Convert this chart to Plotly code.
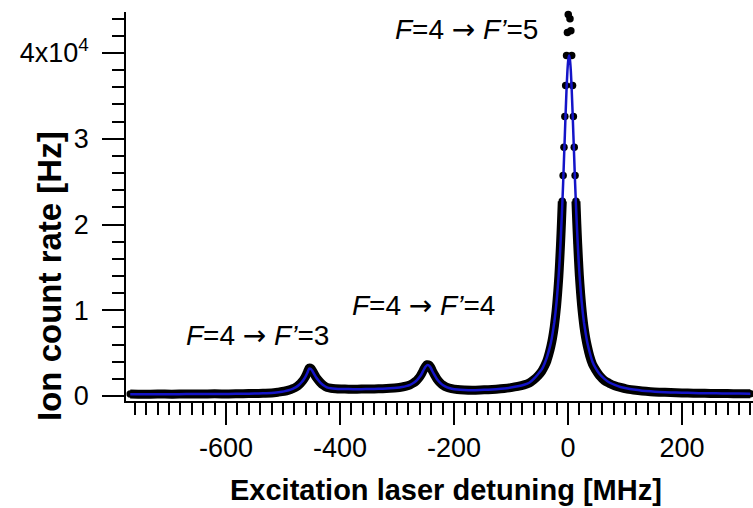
import plotly.graph_objects as go
import numpy as np

# ---------------- data ----------------
# detuning [MHz]
detuning = [
    -768, -745, -720, -695, -670, -645, -620, -595, -570, -550, -535, -520,
    -508, -498, -490, -483, -477, -472, -467, -463, -460, -457, -454, -451,
    -448, -445, -442, -438, -434, -429, -423, -416, -408, -398, -385, -370,
    -355, -340, -325, -312, -300, -291, -284, -277, -272, -267, -263, -259,
    -256, -253, -250, -247, -244, -241, -238, -234, -230, -225, -219, -212,
    -204, -194, -182, -168, -154, -140, -126, -112, -100, -88, -77, -68,
    -60, -52, -46, -41, -37, -33, -30, -27, -24, -22, -20, -18, -16, -14.5,
    -13, -11.5, -10, -8.5, -7, -5.5, -4, -2.5, -1, 0.5, 2, 3.5, 5, 6.5, 8,
    9.5, 11, 12.5, 14, 15.5, 17, 18.5, 20, 22, 24, 26, 28, 31, 34, 38, 43,
    48, 55, 64, 72, 82, 92, 102, 115, 130, 145, 160, 180, 200, 220, 240,
    260, 280, 300, 320,
]

# measured ion count rate [Hz]
count_rate = [
    220, 200, 230, 210, 240, 225, 250, 240, 270, 290, 320, 350,
    450, 550, 680, 850, 1050, 1300, 1650, 2000, 2350, 2800, 3250, 3200,
    2900, 2550, 2200, 1850, 1550, 1250, 1000, 900, 850, 820, 800, 800,
    810, 830, 860, 900, 960, 1050, 1150, 1300, 1480, 1720, 2000, 2350,
    2700, 3100, 3450, 3650, 3600, 3350, 2950, 2450, 2000, 1600, 1250, 1000,
    850, 750, 700, 680, 700, 740, 800, 880, 980, 1120, 1300, 1520,
    1900, 2400, 2900, 3500, 4100, 5000, 5800, 6800, 8100, 9200, 10500, 12100, 14000, 15800,
    17800, 20100, 22700, 25700, 29000, 32600, 36200, 39700, 42400, 44500, 45300, 44000, 42600, 39700, 36200,
    32600, 29000, 25700, 22700, 20100, 17800, 15800, 14000, 12100, 10500, 9200, 8100, 6800, 5800, 4700, 3700,
    3100, 2400, 1800, 1500, 1200, 1000, 830, 700, 580, 500, 450, 400, 360, 330, 310,
    300, 280, 270, 260,
]

# fitted curve [Hz]
fit_rate = [
    200, 205, 210, 215, 220, 228, 236, 246, 262, 285, 310, 350,
    440, 540, 670, 840, 1040, 1290, 1630, 1980, 2320, 2740, 3200, 3150,
    2880, 2520, 2180, 1830, 1540, 1250, 1010, 900, 850, 820, 805, 800,
    805, 825, 860, 905, 965, 1050, 1150, 1300, 1480, 1720, 2000, 2330,
    2670, 3060, 3400, 3600, 3560, 3320, 2920, 2430, 1990, 1600, 1250, 1000,
    850, 750, 700, 680, 700, 740, 800, 880, 990, 1130, 1310, 1540,
    2000, 2600, 3100, 3800, 4500, 5400, 6200, 7300, 8600, 9700, 11000, 12600, 14400, 16000,
    17900, 20000, 22300, 24800, 27600, 30400, 33200, 35800, 37900, 39200, 39700, 39200, 37900, 35800, 33200,
    30400, 27600, 24800, 22300, 20000, 17900, 16000, 14400, 12600, 11000, 9700, 8600, 7300, 6200, 5100, 4000,
    3300, 2600, 2000, 1600, 1300, 1050, 900, 750, 620, 540, 480, 420, 380, 350, 320,
    310, 290, 280, 270,
]

x_tick_vals = [-600, -400, -200, 0, 200]
x_tick_text = ["-600", "-400", "-200", "0", "200"]
y_tick_vals = [0, 10000, 20000, 30000, 40000]
y_tick_text = ["0", "1", "2", "3", "4x10<sup>4</sup>"]

ARROW = "<span style=\"font-family:'DejaVu Sans'\">\u2192</span>"
peak_labels = ["<i>F</i>=4 " + ARROW + " <i>F\u2019</i>=3",
               "<i>F</i>=4 " + ARROW + " <i>F\u2019</i>=4",
               "<i>F</i>=4 " + ARROW + " <i>F\u2019</i>=5"]
peak_label_x = [-545, -254, -178]
peak_label_y = [7100, 10600, 42700]

# ---------------- figure ----------------
W, H = 753, 508
ML, MR, MT, MB = 126, 0, 12, 107

x = np.array(detuning, dtype=float)
y = np.array(count_rate, dtype=float)
band_y = [v if v < 24000 else None for v in y]

fig = go.Figure()
# dense band of overlapping points
fig.add_trace(go.Scatter(x=x, y=band_y, mode="lines",
                         line=dict(color="black", width=9, shape="spline", smoothing=0.7),
                         hoverinfo="skip", showlegend=False))
# data points
fig.add_trace(go.Scatter(x=x, y=y, mode="markers",
                         marker=dict(color="black", size=7.5, line=dict(width=0)),
                         cliponaxis=False, showlegend=False))
# fit
fig.add_trace(go.Scatter(x=x, y=fit_rate, mode="lines",
                         line=dict(color="rgb(20,20,200)", width=2.5, shape="spline", smoothing=0.5),
                         cliponaxis=False, showlegend=False))

tickfont = dict(family="Liberation Sans, Arial, sans-serif", size=27, color="black")
fig.update_xaxes(range=[-775.4, 324.6], showgrid=False, zeroline=False,
                 showline=True, linecolor="black", linewidth=1.5,
                 ticks="outside", ticklen=22, tickwidth=1.5, tickcolor="black",
                 tickvals=x_tick_vals, ticktext=x_tick_text, tickfont=tickfont,
                 ticklabelstandoff=0,
                 minor=dict(dtick=20, tick0=0, ticks="outside", ticklen=12,
                            tickwidth=1.5, tickcolor="black"))
fig.update_yaxes(range=[-583, 44780], showgrid=False, zeroline=False,
                 showline=True, linecolor="black", linewidth=1.5,
                 ticks="outside", ticklen=22, tickwidth=1.5, tickcolor="black",
                 tickvals=y_tick_vals, ticktext=y_tick_text, tickfont=tickfont,
                 ticklabelstandoff=8,
                 minor=dict(dtick=2000, tick0=0, ticks="outside", ticklen=12,
                            tickwidth=1.5, tickcolor="black"))

pw = W - ML - MR
ph = H - MT - MB
annots = []
for t, ax_, ay_ in zip(peak_labels, peak_label_x, peak_label_y):
    annots.append(dict(text=t, x=ax_, y=ay_, xref="x", yref="y", showarrow=False,
                       xanchor="center", yanchor="middle",
                       font=dict(family="Liberation Sans, Arial, sans-serif", size=28, color="black")))
annots.append(dict(text="<b>Excitation laser detuning [MHz]</b>", xref="paper", yref="paper",
                   x=(446 - ML) / pw, y=-(489.5 - (H - MB)) / ph, showarrow=False,
                   xanchor="center", yanchor="middle",
                   font=dict(family="Liberation Sans, Arial, sans-serif", size=29, color="black")))
annots.append(dict(text="<b>Ion count rate [Hz]</b>", xref="paper", yref="paper",
                   x=(49 - ML) / pw, y=((H - MB) - 276) / ph, showarrow=False,
                   textangle=-90, xanchor="center", yanchor="middle",
                   font=dict(family="Liberation Sans, Arial, sans-serif", size=33, color="black")))

fig.update_layout(width=W, height=H, margin=dict(l=ML, r=MR, t=MT, b=MB, pad=0),
                  plot_bgcolor="white", paper_bgcolor="white",
                  showlegend=False, annotations=annots)

fig.write_html("out.html")
